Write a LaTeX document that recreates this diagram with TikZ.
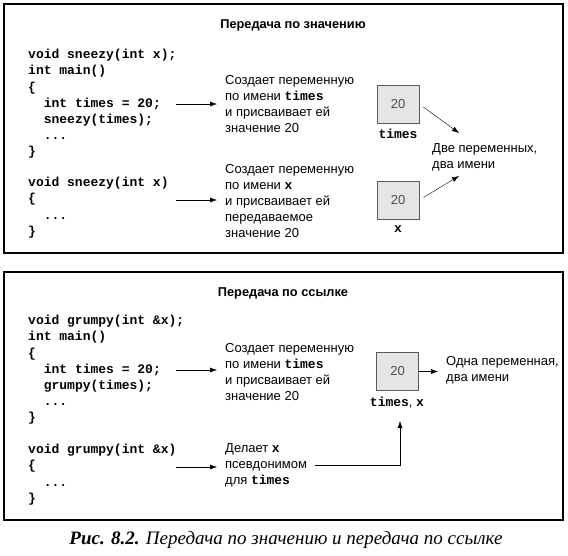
\documentclass[tikz,border=0pt]{standalone}
\usepackage{fontspec}
\usetikzlibrary{arrows.meta}
\setmainfont{Liberation Sans}
\setmonofont{Liberation Mono}
\newfontfamily\capfont{Liberation Serif}
\newcommand{\codeword}[1]{{\ttfamily\bfseries #1}}

\begin{document}
\begin{tikzpicture}[x=1pt,y=-1pt,>={Latex[length=7pt,width=5pt]},
    panel/.style={line width=2.2pt},
    heading/.style={font=\bfseries\fontsize{12.8}{14}\selectfont},
    code/.style={anchor=north west,inner sep=0pt,align=left,font=\ttfamily\bfseries\fontsize{13}{16.2}\selectfont},
    note/.style={anchor=west,inner xsep=8pt,inner ysep=0pt,align=left,font=\fontsize{13}{16}\selectfont},
    cell/.style={draw=gray!70!black,fill=gray!20,minimum width=42pt,minimum height=38pt,
                 text=gray!60!black,font=\fontsize{13}{16}\selectfont},
    varlabel/.style={font=\fontsize{13}{16}\selectfont}]
\useasboundingbox (0,0) rectangle (568,555);

\draw[panel] (4,4) rectangle (563,253);
\node[heading] (head1) at (293,25) {Передача по значению};
\node[code] (code1) at (28,49) {void sneezy(int x);\\int main()\\\{\\\ \ int times = 20;\\\ \ sneezy(times);\\\ \ ...\\\}};
\node[code] (code2) at (28,177) {void sneezy(int x)\\\{\\\ \ ...\\\}};
\node[note] (note1) at (217,104.5) {Создает переменную\\по имени \codeword{times}\\и присваивает ей\\значение 20};
\node[note] (note2) at (217,201) {Создает переменную\\по имени \codeword{x}\\и присваивает ей\\передаваемое\\значение 20};
\node[cell] (cell1) at (398,104) {20};
\node[varlabel] (lbl1) at (398,134) {\codeword{times}};
\node[cell] (cell2) at (398,200) {20};
\node[varlabel] (lbl2) at (398,229) {\codeword{x}};
\node[note] (note3) at (424,157) {Две переменных,\\два имени};
\coordinate (from1) at (176,104);
\coordinate (from2) at (176,200);
\coordinate (tip1) at (459,133);
\coordinate (tip2) at (459,176);
\draw[->] (from1) -- (from1 -| note1.west);
\draw[->] (from2) -- (from2 -| note2.west);
\draw[->,shorten <=5pt] (cell1.east) -- (tip1);
\draw[->,shorten <=5pt] (cell2.east) -- (tip2);

\draw[panel] (4,272) rectangle (563,520);
\node[heading] (head2) at (283,293) {Передача по ссылке};
\node[code] (code3) at (28,315) {void grumpy(int \&x);\\int main()\\\{\\\ \ int times = 20;\\\ \ grumpy(times);\\\ \ ...\\\}};
\node[code] (code4) at (28,444) {void grumpy(int \&x)\\\{\\\ \ ...\\\}};
\node[note] (note4) at (217,372.5) {Создает переменную\\по имени \codeword{times}\\и присваивает ей\\значение 20};
\node[note] (note5) at (217,465.5) {Делает \codeword{x}\\псевдонимом\\для \codeword{times}};
\node[cell] (cell3) at (397.5,371.5) {20};
\node[varlabel] (lbl3) at (397,403) {\codeword{times}, \codeword{x}};
\node[note] (note6) at (438,370) {Одна переменная,\\два имени};
\coordinate (from3) at (176,370);
\coordinate (from4) at (176,467);
\coordinate (up1) at (400,421);
\draw[->] (from3) -- (from3 -| note4.west);
\draw[->] (from4) -- (from4 -| note5.west);
\draw[->] (cell3.east) -- (cell3.east -| note6.west);
\draw[->] (note5.east) -| (up1);

\node (caption) at (286,540) {\capfont\fontsize{19}{22}\selectfont\bfseries\itshape Рис. 8.2. \mdseries Передача по значению и передача по ссылке};
\end{tikzpicture}
\end{document}
